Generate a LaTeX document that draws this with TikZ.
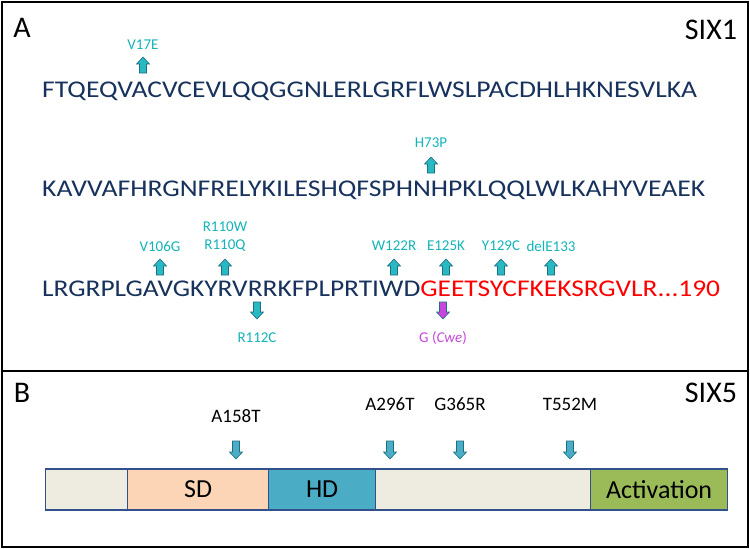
\documentclass[tikz,border=0pt]{standalone}
\usepackage{fontspec}
\setmainfont{Carlito}
\usetikzlibrary{calc}
\definecolor{navy}{RGB}{23,50,92}
\definecolor{cy}{RGB}{20,180,185}
\definecolor{arrf}{RGB}{40,185,195}
\definecolor{arrd}{RGB}{30,110,130}
\definecolor{pinkc}{RGB}{200,70,220}
\definecolor{barf}{RGB}{75,172,198}
\definecolor{segg}{RGB}{238,236,225}
\definecolor{segp}{RGB}{251,213,181}
\definecolor{segb}{RGB}{75,172,198}
\definecolor{segv}{RGB}{155,187,89}
\definecolor{segline}{RGB}{50,80,140}
\tikzset{
  seq/.style={anchor=west,inner sep=0pt,font=\fontsize{24}{26}\selectfont,text=navy},
  mut/.style={font=\fontsize{15}{17}\selectfont,text=cy,inner sep=1pt},
  mutb/.style={font=\fontsize{19}{21}\selectfont,text=black,inner sep=1pt},
  seg/.style={draw=segline,line width=1.2pt,inner sep=0pt,font=\fontsize{26}{28}\selectfont},
  panel/.style={draw=black,line width=1.2pt},
  plabel/.style={font=\fontsize{30}{32}\selectfont,inner sep=0pt},
}
\newcommand{\uparr}[4]{\filldraw[fill=#4,draw=arrd,line width=0.6pt]
 (#1-3.5,#2) -- (#1+3.5,#2) -- (#1+3.5,#2-#3+7) -- (#1+6.5,#2-#3+7) -- (#1,#2-#3) -- (#1-6.5,#2-#3+7) -- (#1-3.5,#2-#3+7) -- cycle;}
\newcommand{\dnarr}[4]{\filldraw[fill=#4,draw=arrd,line width=0.6pt]
 (#1-3.5,#2) -- (#1+3.5,#2) -- (#1+3.5,#2+#3-7) -- (#1+6.5,#2+#3-7) -- (#1,#2+#3) -- (#1-6.5,#2+#3-7) -- (#1-3.5,#2+#3-7) -- cycle;}
\begin{document}
\begin{tikzpicture}[x=1pt,y=-1pt]
\useasboundingbox (0,0) rectangle (750,549);
\fill[white] (0,0) rectangle (750,549);
\draw[panel] (2,2) rectangle (748,371);
\draw[panel] (2,371) rectangle (748,547);
\node[plabel] (la) at (22,28) {A};
\node[plabel] (s1) at (711,30) {SIX1};
\node[plabel] (lb) at (22,393) {B};
\node[plabel] (s5) at (711,393) {SIX5};
\node[seq] (l1) at (42,91) {\resizebox{655pt}{\height}{FTQEQVACVCEVLQQGGNLERLGRFLWSLPACDHLHKNESVLKA}};
\node[seq] (l2) at (42,190) {\resizebox{663pt}{\height}{KAVVAFHRGNFRELYKILESHQFSPHNHPKLQQLWLKAHYVEAEK}};
\node[seq] (l3) at (42,289) {\resizebox{678pt}{\height}{LRGRPLGAVGKYRVRRKFPLPRTIWD\textcolor{red}{GEETSYCFKEKSRGVLR...190}}};
\node[mut] (m1) at (143,45) {V17E};
\uparr{143}{73}{16}{arrf}
\node[mut] (m2) at (431,143) {H73P};
\uparr{431}{173}{16}{arrf}
\node[mut] (m3) at (160,246) {V106G};
\uparr{160}{275}{16}{arrf}
\node[mut] (m4a) at (225,227) {R110W};
\node[mut] (m4) at (225,246) {R110Q};
\uparr{225}{275}{16}{arrf}
\node[mut] (m5) at (394,246) {W122R};
\uparr{394}{275}{16}{arrf}
\node[mut] (m6) at (446,246) {E125K};
\uparr{446}{275}{16}{arrf}
\node[mut] (m7) at (501,246) {Y129C};
\uparr{501}{275}{16}{arrf}
\node[mut] (m8) at (551,246) {delE133};
\uparr{551}{275}{16}{arrf}
\dnarr{257}{302}{17}{arrf}
\node[mut] (m9) at (257,338) {R112C};
\dnarr{443}{302}{17}{pinkc}
\node[mut,text=pinkc] (m10) at (443,338) {G (\textit{Cwe})};
\node[seg,fill=segg,minimum width=82pt,minimum height=41pt,anchor=west] (b1) at (45,489.5) {};
\node[seg,fill=segp,minimum width=141pt,minimum height=41pt,anchor=west] (b2) at (127,489.5) {SD};
\node[seg,fill=segb,minimum width=107pt,minimum height=41pt,anchor=west] (b3) at (268,489.5) {HD};
\node[seg,fill=segg,minimum width=215pt,minimum height=41pt,anchor=west] (b4) at (375,489.5) {};
\node[seg,fill=segv,minimum width=137pt,minimum height=41pt,anchor=west] (b5) at (590,489.5) {Activation};
\node[mutb] (n1) at (236,416) {A158T};
\dnarr{236}{441}{18}{barf}
\node[mutb] (n2) at (390,404) {A296T};
\dnarr{390}{441}{18}{barf}
\node[mutb] (n3) at (460,404) {G365R};
\dnarr{460}{441}{18}{barf}
\node[mutb] (n4) at (570,404) {T552M};
\dnarr{570}{441}{18}{barf}
\end{tikzpicture}
\end{document}
